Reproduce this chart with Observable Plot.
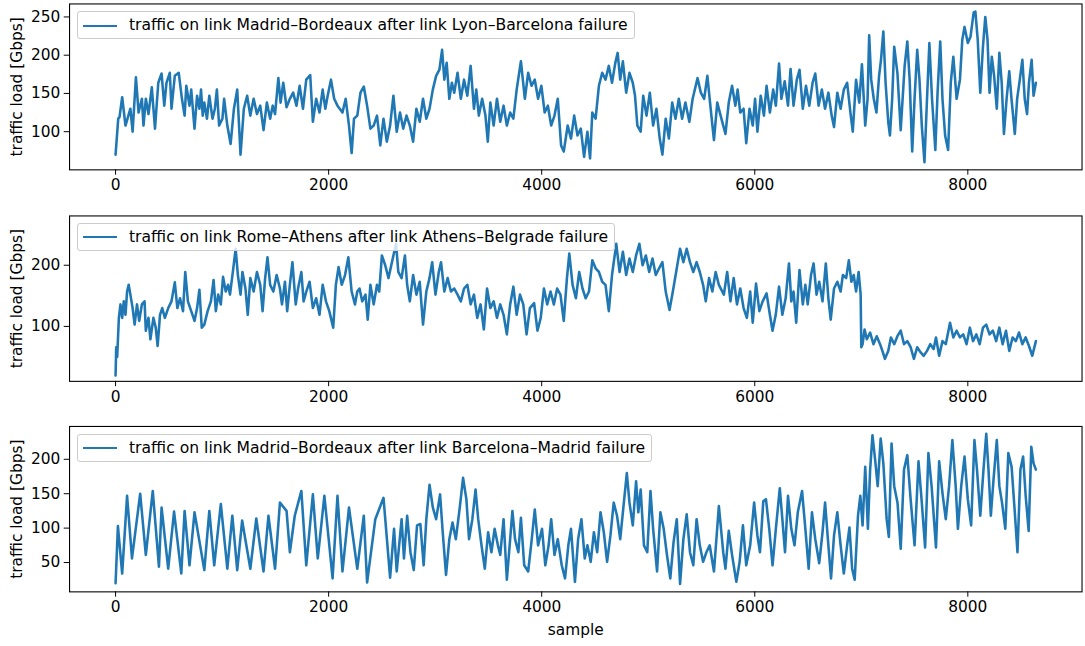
<!DOCTYPE html>
<html><head><meta charset="utf-8">
<script src="https://cdn.jsdelivr.net/npm/d3@7"></script>
<script src="https://cdn.jsdelivr.net/npm/@observablehq/plot@0.6"></script>
<style>
html,body{margin:0;padding:0;background:#fff;overflow:hidden;}
#chart{position:relative;width:1085px;height:646px;overflow:hidden;font-family:"DejaVu Sans",sans-serif;}
.panel{position:absolute;left:0;}
.legend{position:absolute;box-sizing:border-box;height:28px;line-height:27px;padding:0 6px 0 51px;border:1px solid #cccccc;border-radius:3px;background:rgba(255,255,255,0.8);font-size:15.6px;color:#000;white-space:nowrap;}
.legend .swatch{position:absolute;left:5px;top:12.5px;width:34px;height:2.2px;background:#1f77b4;}
</style></head><body><div id="chart"></div><script>
// ---- data: [sample, traffic load in Gbps] ----
const xTicks = [0, 2000, 4000, 6000, 8000];
const yTicks1 = [100, 150, 200, 250];
const yTicks2 = [100, 200];
const yTicks3 = [50, 100, 150, 200];
const yLabel = "traffic load [Gbps]";
const xLabel = "sample";
const legend1 = "traffic on link Madrid\u2013Bordeaux after link Lyon\u2013Barcelona failure";
const legend2 = "traffic on link Rome\u2013Athens after link Athens\u2013Belgrade failure";
const legend3 = "traffic on link Madrid\u2013Bordeaux after link Barcelona\u2013Madrid failure";

const madridBordeauxLyonFail = [[0,70],[25,117],[37,119],[62,145],[93,108],[139,130],[160,100],[191,171],[216,125],[247,143],[262,108],[284,143],[309,123],[340,158],[370,104],[401,164],[432,176],[457,134],[478,164],[509,177],[525,130],[556,173],[593,177],[623,143],[648,121],[664,160],[694,134],[710,155],[741,104],[765,147],[787,130],[802,155],[818,121],[833,138],[858,117],[880,147],[910,117],[932,130],[951,155],[972,108],[1003,117],[1019,143],[1049,108],[1080,84],[1111,130],[1142,155],[1173,70],[1204,130],[1235,147],[1265,121],[1296,143],[1327,123],[1358,134],[1389,102],[1420,138],[1451,117],[1475,134],[1497,123],[1528,170],[1549,138],[1574,164],[1605,132],[1636,143],[1667,151],[1698,134],[1728,160],[1759,130],[1790,168],[1827,174],[1852,113],[1883,143],[1914,125],[1944,155],[1969,130],[1991,147],[2022,168],[2052,143],[2083,134],[2130,125],[2160,143],[2191,108],[2216,72],[2238,117],[2269,121],[2299,151],[2330,159],[2361,134],[2392,104],[2423,108],[2454,121],[2485,82],[2515,117],[2546,87],[2577,108],
[2608,147],[2639,100],[2670,125],[2700,104],[2731,121],[2762,108],[2793,87],[2824,130],[2855,113],[2886,143],[2917,117],[2947,130],[2978,155],[3009,173],[3040,181],[3065,207],[3086,168],[3108,190],[3133,143],[3157,164],[3179,151],[3210,177],[3241,143],[3271,168],[3302,147],[3333,186],[3364,130],[3386,155],[3410,121],[3441,143],[3472,121],[3494,87],[3518,138],[3549,108],[3580,143],[3611,113],[3642,134],[3673,108],[3704,125],[3734,117],[3765,155],[3805,192],[3842,143],[3873,177],[3904,160],[3935,168],[3966,143],[3997,160],[4028,125],[4058,134],[4089,108],[4120,121],[4151,143],[4182,82],[4207,74],[4244,108],[4275,91],[4305,121],[4336,95],[4367,104],[4398,67],[4429,100],[4454,65],[4475,125],[4506,117],[4537,160],[4568,177],[4599,168],[4630,186],[4660,164],[4691,190],[4713,203],[4737,168],[4762,192],[4793,151],[4824,177],[4855,164],[4876,147],[4898,108],[4929,100],[4953,147],[4984,121],[5015,151],[5046,108],[5077,130],[5108,91],[5133,70],[5164,117],[5194,91],[5225,138],[5256,117],[5287,143],[5318,117],[5349,138],[5386,113],[5417,143],[5463,170],[5494,151],[5525,143],[5555,173],[5586,130],[5617,89],[5648,138],
[5704,108],[5725,97],[5756,138],[5787,160],[5818,134],[5839,155],[5864,125],[5895,130],[5920,85],[5951,130],[5981,108],[6003,143],[6025,100],[6056,147],[6086,121],[6111,160],[6142,125],[6173,155],[6198,134],[6228,189],[6250,143],[6281,166],[6312,134],[6336,182],[6364,134],[6395,168],[6420,181],[6451,130],[6481,160],[6512,134],[6543,164],[6568,176],[6599,134],[6630,155],[6660,130],[6691,151],[6722,121],[6744,106],[6775,151],[6806,130],[6836,155],[6867,164],[6898,125],[6920,100],[6951,168],[6981,138],[7006,188],[7037,108],[7059,143],[7074,226],[7093,168],[7117,143],[7142,125],[7167,173],[7185,194],[7207,231],[7228,164],[7253,113],[7269,95],[7290,143],[7309,211],[7339,177],[7370,102],[7407,186],[7432,218],[7454,168],[7478,74],[7500,143],[7525,207],[7546,168],[7568,108],[7593,60],[7617,143],[7639,216],[7664,143],[7695,76],[7716,151],[7741,218],[7762,143],[7787,95],[7815,76],[7840,164],[7864,198],[7895,143],[7926,168],[7948,220],[7969,237],[8000,216],[8025,224],[8055,256],[8071,257],[8093,220],[8117,151],[8142,211],[8164,250],[8185,220],[8204,151],[8225,198],[8247,173],[8272,130],[8296,203],[8318,164],[8339,97],[8364,143],[8389,179],[8410,143],[8441,97],[8463,143],[8488,168],[8512,194],[8534,143],[8556,123],[8574,164],[8599,194],[8617,147],[8639,164]];

const romeAthensBelgradeFail = [[0,20],[6,66],[15,50],[31,114],[46,136],[62,114],[77,141],[93,119],[108,157],[123,168],[139,152],[160,130],[179,103],[201,136],[222,109],[247,136],[272,141],[284,93],[309,114],[327,79],[355,114],[377,98],[395,68],[417,119],[438,130],[463,114],[494,130],[525,141],[556,172],[580,130],[605,146],[633,125],[654,189],[679,141],[710,125],[741,109],[765,130],[787,160],[809,98],[833,103],[864,125],[895,141],[920,176],[941,125],[963,152],[988,136],[1009,181],[1034,157],[1056,168],[1074,152],[1105,195],[1127,227],[1148,184],[1173,152],[1191,189],[1219,162],[1241,119],[1265,179],[1296,157],[1327,189],[1358,168],[1380,125],[1404,179],[1426,213],[1451,168],[1481,157],[1512,184],[1543,162],[1562,136],[1590,173],[1611,125],[1636,168],[1660,205],[1691,136],[1713,162],[1744,189],[1765,141],[1790,157],[1821,173],[1852,130],[1883,146],[1914,119],[1944,168],[1975,141],[2006,125],[2043,98],[2068,168],[2093,197],[2123,168],[2154,184],[2185,213],[2216,157],[2247,136],[2269,157],[2290,162],[2315,141],[2346,152],[2367,111],[2392,168],[2423,136],[2454,168],[2475,157],[2500,216],[2531,200],[2562,179],
[2608,216],[2633,235],[2654,189],[2685,179],[2716,216],[2737,168],[2762,141],[2793,184],[2824,152],[2855,173],[2886,103],[2917,157],[2947,179],[2972,205],[3003,152],[3034,189],[3055,205],[3086,157],[3117,179],[3148,157],[3179,162],[3210,152],[3241,141],[3271,162],[3302,168],[3333,136],[3364,152],[3395,114],[3426,136],[3457,95],[3487,162],[3518,130],[3549,141],[3580,114],[3611,136],[3642,119],[3673,87],[3704,136],[3734,165],[3765,119],[3796,152],[3827,136],[3858,87],[3889,130],[3929,138],[3960,93],[3991,114],[4021,162],[4052,136],[4083,157],[4114,136],[4145,162],[4176,152],[4207,109],[4237,179],[4259,219],[4290,168],[4321,146],[4352,189],[4383,162],[4413,146],[4444,157],[4475,208],[4506,195],[4537,189],[4568,173],[4599,168],[4630,125],[4660,184],[4700,235],[4731,189],[4762,222],[4793,184],[4824,211],[4855,189],[4886,216],[4917,235],[4947,200],[4978,216],[5009,189],[5040,211],[5071,184],[5102,195],[5133,205],[5164,157],[5200,127],[5231,157],[5262,189],[5299,227],[5330,205],[5361,227],[5392,205],[5423,189],[5454,205],[5484,189],[5515,168],[5540,141],[5571,179],[5602,157],[5633,189],[5663,168],
[5710,152],[5741,189],[5772,141],[5802,179],[5833,136],[5864,162],[5895,130],[5926,114],[5957,157],[5981,106],[6012,170],[6043,125],[6074,141],[6111,154],[6142,119],[6167,93],[6197,119],[6228,165],[6259,119],[6290,146],[6321,203],[6343,141],[6364,157],[6389,106],[6420,192],[6451,136],[6475,168],[6497,136],[6528,184],[6552,203],[6580,152],[6605,173],[6636,141],[6667,203],[6691,146],[6713,111],[6744,162],[6775,173],[6806,157],[6827,184],[6858,179],[6883,208],[6907,173],[6929,184],[6951,157],[6975,189],[6994,152],[7000,66],[7012,71],[7031,95],[7052,79],[7083,90],[7114,71],[7145,84],[7176,71],[7198,60],[7222,47],[7253,60],[7278,82],[7309,71],[7339,84],[7370,93],[7401,71],[7432,76],[7463,66],[7494,47],[7525,66],[7555,58],[7586,52],[7617,60],[7648,71],[7679,63],[7701,82],[7731,52],[7762,76],[7793,71],[7833,106],[7864,82],[7895,93],[7926,82],[7957,87],[7988,71],[8019,98],[8049,76],[8080,87],[8111,71],[8142,98],[8173,103],[8204,87],[8235,93],[8266,76],[8296,98],[8327,71],[8358,93],[8389,60],[8420,82],[8451,76],[8481,90],[8512,71],[8543,82],[8574,68],[8605,52],[8639,76]];

const madridBordeauxBarcelonaFail = [[0,20],[22,103],[62,34],[108,147],[154,56],[231,150],[284,61],[349,154],[407,44],[432,130],[494,41],[549,124],[617,34],[648,125],[694,46],[741,123],[833,39],[880,125],[926,46],[988,135],[1049,41],[1096,118],[1142,39],[1188,111],[1265,41],[1321,114],[1389,37],[1435,118],[1497,41],[1543,137],[1605,125],[1636,65],[1682,118],[1744,154],[1790,46],[1852,149],[1898,56],[1960,147],[2037,27],[2083,147],[2130,37],[2191,130],[2269,41],[2330,118],[2361,21],[2438,113],[2515,144],[2577,28],
[2614,99],[2639,37],[2685,113],[2707,56],[2737,118],[2768,65],[2799,39],[2830,104],[2861,106],[2892,46],[2917,113],[2947,163],[2978,130],[3009,113],[3046,149],[3071,94],[3102,32],[3133,84],[3163,108],[3194,84],[3231,130],[3262,173],[3293,142],[3318,84],[3349,113],[3379,156],[3404,113],[3435,75],[3466,41],[3497,94],[3528,65],[3558,99],[3589,75],[3611,61],[3642,113],[3673,25],[3704,84],[3725,125],[3750,84],[3781,65],[3805,115],[3836,46],[3873,37],[3904,80],[3935,127],[3966,75],[4003,99],[4034,46],[4065,75],[4089,113],[4120,61],[4151,84],[4188,46],[4219,27],[4250,75],[4275,99],[4312,22],[4342,84],[4373,113],[4404,56],[4429,75],[4460,51],[4490,94],[4521,65],[4552,123],[4583,94],[4614,51],[4645,89],[4676,137],[4707,118],[4737,84],[4768,132],[4799,180],[4824,137],[4855,104],[4886,168],[4907,123],[4929,156],[4960,75],[4991,65],[5021,154],[5046,99],[5083,37],[5114,123],[5145,99],[5176,61],[5207,27],[5238,80],[5268,113],[5299,19],[5330,84],[5361,120],[5392,65],[5423,46],[5454,113],[5484,75],[5515,51],[5546,65],[5577,75],[5617,37],[5663,132],
[5704,65],[5725,41],[5756,96],[5787,61],[5827,22],[5858,51],[5889,104],[5920,46],[5957,75],[5994,137],[6025,89],[6049,65],[6080,139],[6105,142],[6136,99],[6167,46],[6198,99],[6235,158],[6259,113],[6284,65],[6312,147],[6343,99],[6373,75],[6404,123],[6444,154],[6475,99],[6506,41],[6537,123],[6568,84],[6605,49],[6636,94],[6660,137],[6691,75],[6716,27],[6744,89],[6775,123],[6806,75],[6836,34],[6867,75],[6889,101],[6914,41],[6938,25],[6969,118],[6991,147],[7012,104],[7037,189],[7062,99],[7083,185],[7105,235],[7130,199],[7154,161],[7182,230],[7207,194],[7238,113],[7259,87],[7284,223],[7309,161],[7340,137],[7370,70],[7401,185],[7432,206],[7463,142],[7500,75],[7537,197],[7568,137],[7599,72],[7630,209],[7660,161],[7701,72],[7731,197],[7762,151],[7793,113],[7824,161],[7855,228],[7886,161],[7907,99],[7938,161],[7969,204],[8000,142],[8031,104],[8062,228],[8086,185],[8117,118],[8148,187],[8173,237],[8194,185],[8216,118],[8241,170],[8272,228],[8296,161],[8321,137],[8352,99],[8380,209],[8411,189],[8441,123],[8466,65],[8494,185],[8519,204],[8543,147],[8571,96],[8596,218],[8617,194],[8639,185]];

// ---- drawing ----
const COLOR = "#1f77b4";
const FONT = 15.6;
const chart = document.getElementById("chart");
const toRows = arr => arr.map(([sample, load]) => ({sample, load}));

function panel({series, yDomain, yTicks, top, height, marginTop, marginBottom, legendText, legendTop, withXLabel}) {
  const marks = [
    Plot.axisX({ticks: xTicks, tickSize: 5.4, tickPadding: 4, tickFormat: d => String(d), label: null}),
    Plot.axisY({ticks: yTicks, tickSize: 5.4, tickPadding: 4, tickFormat: d => String(d), label: null}),
    Plot.line(toRows(series), {x: "sample", y: "load", stroke: COLOR, strokeWidth: 2.6, strokeLinejoin: "round"}),
    Plot.frame({stroke: "#000", strokeWidth: 1.1}),
    Plot.text([yLabel], {text: d => d, frameAnchor: "left", dx: -53, rotate: -90, textAnchor: "middle", lineAnchor: "middle", fontSize: FONT})
  ];
  if (withXLabel) marks.push(Plot.text([xLabel], {text: d => d, frameAnchor: "bottom", dy: 38.5, lineAnchor: "middle", fontSize: FONT}));
  const svg = Plot.plot({
    width: 1100, height, marginLeft: 70, marginRight: 3.5, marginTop, marginBottom,
    x: {domain: [-432, 9072]},
    y: {domain: yDomain},
    style: {fontFamily: "DejaVu Sans", fontSize: FONT + "px", color: "#000", background: "transparent", overflow: "visible"},
    marks
  });
  const wrap = document.createElement("div");
  wrap.className = "panel";
  wrap.style.top = top + "px";
  wrap.appendChild(svg);
  chart.appendChild(wrap);
  const lg = document.createElement("div");
  lg.className = "legend";
  lg.style.left = "77px";
  lg.style.top = legendTop + "px";
  lg.innerHTML = '<div class="swatch"></div>';
  lg.appendChild(document.createTextNode(legendText));
  chart.appendChild(lg);
}

panel({series: madridBordeauxLyonFail, yDomain: [50.1, 267], yTicks: yTicks1, top: 0, height: 211.5, marginTop: 3.5, marginBottom: 39.8, legendText: legend1, legendTop: 11});
panel({series: romeAthensBelgradeFail, yDomain: [10.2, 280.6], yTicks: yTicks2, top: 211.5, height: 211.5, marginTop: 3.5, marginBottom: 40.3, legendText: legend2, legendTop: 222.5});
panel({series: madridBordeauxBarcelonaFail, yDomain: [7.4, 247.7], yTicks: yTicks3, top: 423, height: 223, marginTop: 3, marginBottom: 52.3, legendText: legend3, legendTop: 433.5, withXLabel: true});
</script></body></html>
